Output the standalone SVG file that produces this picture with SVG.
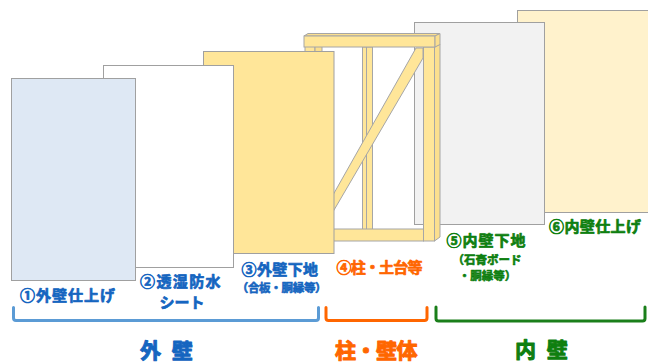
<svg xmlns="http://www.w3.org/2000/svg" width="648" height="363" viewBox="0 0 648 363">
  <style>
    .panel { stroke: #a0a0a0; stroke-width: 1; }
    .wood { fill: #ffe699; stroke: #a6a6a6; stroke-width: 1; }
    .wood-side { fill: #fbdf8e; stroke: #a6a6a6; stroke-width: 1; }
    .seam { stroke: #a6a6a6; stroke-width: 1; fill: none; }
    text { font-family: "Noto Sans CJK JP", "Noto Sans", sans-serif; font-weight: 700; stroke-linejoin: round; }
    .blue { fill: #1565c0; stroke: #1565c0; }
    .orange { fill: #ff6600; stroke: #ff6600; }
    .green { fill: #0e7f10; stroke: #0e7f10; }
    .lbl { font-size: 15px; stroke-width: 0.7; }
    .sub { font-size: 11.5px; stroke-width: 0.6; }
    .grp { font-size: 21px; stroke-width: 1; }
    .bracket { fill: none; stroke-width: 3; stroke-linecap: round; stroke-linejoin: round; }
  </style>

  <!-- back to front: interior finish, interior board, framing, exterior layers -->
  <g id="inner-finish">
    <rect class="panel" x="517.5" y="10.5" width="133" height="202" fill="#fff2cc"/>
  </g>

  <g id="inner-board">
    <rect class="panel" x="414.5" y="22.5" width="130" height="202" fill="#f2f2f2"/>
  </g>

  <g id="frame">
    <!-- left post (mostly behind the sheathing) -->
    <rect class="wood" x="305" y="40" width="10" height="200"/>
    <rect class="wood-side" x="315" y="40" width="7" height="200"/>
    <!-- middle stud -->
    <rect class="wood" x="362.5" y="47" width="10" height="183"/>
    <line class="seam" x1="366.5" y1="47" x2="366.5" y2="230"/>
    <!-- diagonal brace -->
    <polygon class="wood" points="416,48 423,48 423,58 320,234 320,218"/>
    <!-- sill -->
    <rect class="wood" x="320" y="229" width="103.5" height="12"/>
    <!-- right post -->
    <rect class="wood" x="423.5" y="47" width="11" height="194"/>
    <polygon class="wood-side" points="434.5,47 440,44 440,237 434.5,241"/>
    <!-- top beam -->
    <polygon class="wood-side" points="304,36 308,33.5 440,33.5 435,36"/>
    <rect class="wood" x="304" y="36" width="131" height="11"/>
    <polygon class="wood-side" points="435,36 440,33.5 440,44.5 435,47"/>
  </g>

  <g id="sheathing">
    <rect class="panel" x="203.5" y="51.5" width="130.5" height="202" fill="#ffe699"/>
  </g>

  <g id="membrane">
    <rect class="panel" x="103.5" y="65.5" width="130" height="202" fill="#ffffff"/>
  </g>

  <g id="outer-finish">
    <rect class="panel" x="11.5" y="78.5" width="124" height="202" fill="#dee8f4"/>
  </g>

  <!-- layer labels -->
  <g id="label-1">
    <text class="lbl blue" x="20" y="301" letter-spacing="1">①外壁仕上げ</text>
  </g>
  <g id="label-2">
    <text class="lbl blue" x="140" y="286.5" letter-spacing="1.4">②透湿防水</text>
    <text class="lbl blue" x="182" y="307.5" text-anchor="middle">シート</text>
  </g>
  <g id="label-3">
    <text class="lbl blue" x="241.5" y="274.7" letter-spacing="0.4">③外壁下地</text>
    <text class="sub blue" x="281.5" y="292" text-anchor="middle" letter-spacing="-0.3">（合板・胴縁等）</text>
  </g>
  <g id="label-4">
    <text class="lbl orange" x="336.5" y="273" letter-spacing="-0.8">④柱・土台等</text>
  </g>
  <g id="label-5">
    <text class="lbl green" x="446.5" y="245.7" letter-spacing="1">⑤内壁下地</text>
    <text class="sub green" x="487" y="263.7" text-anchor="middle">（石膏ボード</text>
    <text class="sub green" x="487.5" y="280.4" text-anchor="middle">・胴縁等）</text>
  </g>
  <g id="label-6">
    <text class="lbl green" x="549" y="232.4" letter-spacing="0.4">⑥内壁仕上げ</text>
  </g>

  <!-- grouping brackets -->
  <g id="brackets">
    <path class="bracket" stroke="#5b9bd5" d="M13.5,307.5 V318 Q13.5,320.5 16,320.5 H316 Q318.5,320.5 318.5,318 V307.5"/>
    <path class="bracket" stroke="#ff6600" d="M326,307.5 V318 Q326,320.5 328.5,320.5 H424.5 Q427,320.5 427,318 V307.5"/>
    <path class="bracket" stroke="#1a7f1a" d="M436,307 V318.5 Q436,321 438.5,321 H642.5 Q645,321 645,318.5 V307"/>
  </g>

  <!-- group titles -->
  <g id="group-exterior">
    <text class="grp blue" x="140" y="357.5" letter-spacing="3" xml:space="preserve">外 壁</text>
  </g>
  <g id="group-structure">
    <text class="grp orange" x="335" y="357.5" letter-spacing="-0.5">柱・壁体</text>
  </g>
  <g id="group-interior">
    <text class="grp green" x="515" y="357" letter-spacing="3" xml:space="preserve">内 壁</text>
  </g>
</svg>
